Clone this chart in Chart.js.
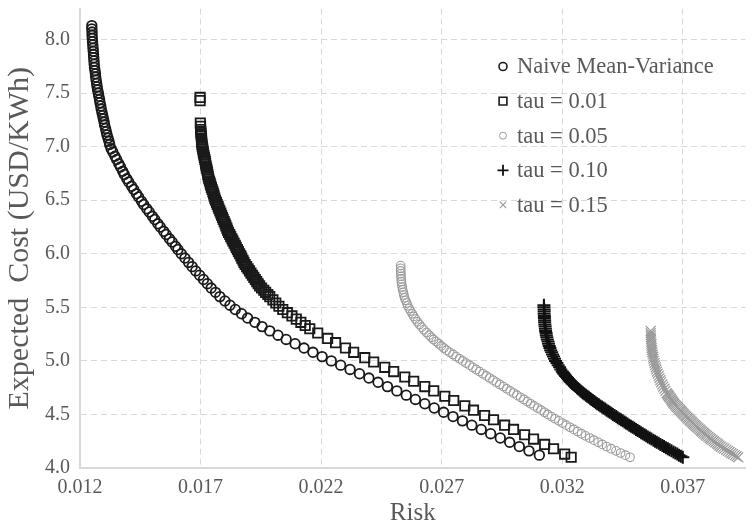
<!DOCTYPE html>
<html>
<head>
<meta charset="utf-8">
<title>Expected cost vs risk</title>
<script src="https://cdn.jsdelivr.net/npm/chart.js@4.4.1/dist/chart.umd.min.js"></script>
<style>
  html, body { margin: 0; padding: 0; background: #ffffff; }
  #wrap { width: 754px; height: 529px; }
</style>
</head>
<body>
<div id="wrap"><canvas id="myChart"></canvas></div>
<script>
// tick labels
const xTicks = [0.012, 0.017, 0.022, 0.027, 0.032, 0.037];
const yTicks = [4.0, 4.5, 5.0, 5.5, 6.0, 6.5, 7.0, 7.5, 8.0];

const seriesNames = ['Naive Mean-Variance', 'tau = 0.01', 'tau = 0.05', 'tau = 0.10', 'tau = 0.15'];

// Naive Mean-Variance
const naiveRisk = [0.01249,0.01249,0.01250,0.01250,0.01251,0.01252,0.01253,0.01254,0.01255,0.01256,0.01257,0.01258,0.01259,0.01260,0.01262,0.01264,0.01265,0.01267,0.01269,0.01271,0.01273,0.01276,0.01278,0.01281,0.01283,0.01286,0.01288,0.01291,0.01294,0.01297,0.01300,0.01302,0.01306,0.01309,0.01312,0.01316,0.01320,0.01323,
  0.01329,0.01336,0.01345,0.01352,0.01361,0.01368,0.01377,0.01384,0.01394,0.01402,0.01414,0.01423,0.01434,0.01443,0.01455,0.01464,0.01477,0.01487,0.01500,0.01510,0.01523,0.01533,0.01547,0.01557,0.01571,0.01582,0.01596,0.01606,0.01620,
  0.01635,0.01650,0.01665,0.01680,0.01696,0.01712,0.01728,0.01744,0.01762,0.01780,0.01801,0.01822,0.01844,0.01870,0.01895,0.01925,0.01955,0.01987,0.02021,0.02055,0.02092,0.02129,0.02166,0.02204,0.02242,0.02281,0.02320,0.02359,0.02398,0.02436,0.02475,0.02514,0.02553,0.02591,0.02630,0.02669,0.02708,0.02747,0.02786,0.02825,0.02864,0.02903,0.02943,0.02982,0.03022,0.03062,0.03105];
const naiveCost = [8.13,8.10,8.07,8.04,8.01,7.98,7.95,7.92,7.89,7.86,7.83,7.80,7.77,7.74,7.71,7.68,7.65,7.62,7.59,7.56,7.53,7.50,7.47,7.44,7.41,7.38,7.35,7.32,7.29,7.26,7.23,7.20,7.17,7.14,7.11,7.08,7.05,7.02,
  6.98,6.95,6.91,6.88,6.84,6.81,6.77,6.74,6.70,6.67,6.63,6.60,6.56,6.53,6.49,6.46,6.42,6.39,6.35,6.32,6.28,6.25,6.21,6.18,6.14,6.11,6.07,6.04,6.00,
  5.96,5.92,5.88,5.84,5.80,5.76,5.72,5.68,5.64,5.60,5.56,5.52,5.48,5.44,5.40,5.36,5.32,5.28,5.24,5.20,5.16,5.12,5.08,5.04,5.00,4.96,4.92,4.88,4.84,4.80,4.76,4.72,4.68,4.64,4.60,4.56,4.52,4.48,4.44,4.40,4.36,4.32,4.28,4.24,4.20,4.16,4.12];

// tau = 0.01
const tau01Risk = [0.01698,0.01698,0.01699,0.01700,0.01700,
  0.01701,0.01702,0.01703,0.01704,0.01704,0.01705,0.01706,0.01707,
  0.01709,0.01711,0.01712,0.01714,0.01716,0.01718,0.01720,0.01721,0.01723,0.01725,0.01727,0.01729,0.01730,0.01732,0.01734,
  0.01737,0.01740,0.01742,0.01745,0.01748,0.01751,0.01754,0.01756,0.01759,0.01762,
  0.01766,0.01769,0.01773,0.01776,0.01780,0.01784,0.01787,0.01791,0.01794,0.01798,0.01802,0.01805,0.01809,0.01812,0.01816,
  0.01821,0.01825,0.01830,0.01834,0.01839,0.01844,0.01848,0.01853,0.01857,0.01862,0.01867,0.01871,0.01876,0.01880,0.01885,
  0.01891,0.01897,0.01903,0.01909,0.01915,0.01921,0.01927,0.01933,0.01939,0.01945,
  0.01953,0.01962,0.01970,0.01979,0.01987,
  0.02000,0.02012,0.02025,0.02041,0.02060,0.02079,0.02097,0.02116,0.02134,0.02153,
  0.02186,0.02227,0.02260,0.02301,0.02335,0.02381,0.02418,0.02464,0.02501,0.02547,0.02584,0.02630,0.02667,0.02713,0.02750,0.02796,0.02832,0.02878,0.02915,0.02961,0.02998,0.03044,0.03081,0.03127,0.03164,0.03210,0.03237];
const tau01Cost = [7.46,7.43,7.22,7.19,7.16,
  7.14,7.12,7.10,7.08,7.06,7.04,7.02,7.00,
  6.98,6.96,6.94,6.92,6.90,6.88,6.86,6.84,6.82,6.80,6.78,6.76,6.74,6.72,6.70,
  6.68,6.66,6.64,6.62,6.60,6.58,6.56,6.54,6.52,6.50,
  6.48,6.46,6.44,6.42,6.40,6.38,6.36,6.34,6.32,6.30,6.28,6.26,6.24,6.22,6.20,
  6.18,6.16,6.14,6.12,6.10,6.08,6.06,6.04,6.02,6.00,5.98,5.96,5.94,5.92,5.90,
  5.88,5.86,5.84,5.82,5.80,5.78,5.76,5.74,5.72,5.70,
  5.68,5.66,5.64,5.62,5.60,
  5.57,5.54,5.51,5.48,5.45,5.42,5.39,5.36,5.33,5.30,
  5.26,5.21,5.17,5.12,5.08,5.03,4.99,4.94,4.90,4.85,4.81,4.76,4.72,4.67,4.63,4.58,4.54,4.49,4.45,4.40,4.36,4.31,4.27,4.22,4.18,4.13,4.10];

// tau = 0.05
const tau05Risk = [0.02530,0.02530,0.02530,0.02531,0.02531,0.02532,0.02533,0.02534,0.02536,0.02538,0.02541,0.02543,0.02546,0.02550,0.02555,0.02559,0.02565,0.02571,0.02578,0.02584,0.02591,0.02599,0.02608,0.02617,0.02626,0.02637,0.02648,
  0.02657,0.02666,0.02677,0.02688,0.02698,0.02709,0.02720,
  0.02733,0.02747,0.02760,0.02774,0.02787,
  0.02801,0.02815,0.02829,0.02843,0.02857,
  0.02871,0.02885,0.02899,0.02913,0.02927,
  0.02941,0.02956,0.02970,0.02984,0.02998,
  0.03012,0.03027,0.03041,0.03055,0.03069,
  0.03083,0.03098,0.03112,0.03126,0.03140,
  0.03155,0.03170,0.03186,0.03201,0.03216,
  0.03232,0.03248,0.03264,0.03280,0.03296,
  0.03314,0.03331,0.03349,0.03366,0.03384,
  0.03403,0.03423,0.03442,0.03462,0.03481];
const tau05Cost = [5.89,5.865,5.84,5.815,5.79,5.765,5.74,5.715,5.69,5.665,5.64,5.615,5.59,5.565,5.54,5.515,5.49,5.465,5.44,5.415,5.39,5.365,5.34,5.315,5.29,5.265,5.24,
  5.22,5.20,5.18,5.16,5.14,5.12,5.10,
  5.08,5.06,5.04,5.02,5.00,
  4.98,4.96,4.94,4.92,4.90,
  4.88,4.86,4.84,4.82,4.80,
  4.78,4.76,4.74,4.72,4.70,
  4.68,4.66,4.64,4.62,4.60,
  4.58,4.56,4.54,4.52,4.50,
  4.48,4.46,4.44,4.42,4.40,
  4.38,4.36,4.34,4.32,4.30,
  4.28,4.26,4.24,4.22,4.20,
  4.18,4.16,4.14,4.12,4.10];

// tau = 0.10
const tau10Risk = [0.03124,0.03124,0.03125,0.03125,0.03125,0.03126,0.03126,0.03127,0.03127,0.03128,0.03129,0.03130,0.03131,0.03133,0.03134,0.03136,0.03138,0.03141,0.03143,0.03146,0.03149,0.03152,0.03156,0.03160,0.03164,0.03168,0.03172,0.03178,0.03183,0.03189,0.03194,
  0.03200,0.03204,0.03207,0.03211,0.03214,0.03218,0.03222,0.03225,0.03229,0.03232,
  0.03236,0.03241,0.03246,0.03251,0.03256,0.03261,0.03266,0.03271,0.03276,0.03281,
  0.03286,0.03292,0.03298,0.03304,0.03310,0.03316,0.03321,0.03327,0.03333,0.03339,
  0.03345,0.03352,0.03358,0.03365,0.03371,0.03378,0.03384,0.03391,0.03397,0.03404,
  0.03410,0.03417,0.03424,0.03430,0.03437,0.03444,0.03451,0.03458,0.03464,0.03471,
  0.03478,0.03485,0.03492,0.03499,0.03506,0.03513,0.03520,0.03527,0.03534,0.03541,
  0.03548,0.03555,0.03563,0.03570,0.03578,0.03585,0.03592,0.03600,0.03607,0.03615,
  0.03622,0.03630,0.03638,0.03645,0.03653,0.03661,0.03669,0.03677,0.03684,0.03692,
  0.03700];
const tau10Cost = [5.52,5.50,5.48,5.46,5.44,5.42,5.40,5.38,5.36,5.34,5.32,5.30,5.28,5.26,5.24,5.22,5.20,5.18,5.16,5.14,5.12,5.10,5.08,5.06,5.04,5.02,5.00,4.98,4.96,4.94,4.92,
  4.90,4.89,4.88,4.87,4.86,4.85,4.84,4.83,4.82,4.81,
  4.80,4.79,4.78,4.77,4.76,4.75,4.74,4.73,4.72,4.71,
  4.70,4.69,4.68,4.67,4.66,4.65,4.64,4.63,4.62,4.61,
  4.60,4.59,4.58,4.57,4.56,4.55,4.54,4.53,4.52,4.51,
  4.50,4.49,4.48,4.47,4.46,4.45,4.44,4.43,4.42,4.41,
  4.40,4.39,4.38,4.37,4.36,4.35,4.34,4.33,4.32,4.31,
  4.30,4.29,4.28,4.27,4.26,4.25,4.24,4.23,4.22,4.21,
  4.20,4.19,4.18,4.17,4.16,4.15,4.14,4.13,4.12,4.11,
  4.10];

// tau = 0.15
const tau15Risk = [0.03567,0.03567,0.03567,0.03568,0.03568,0.03569,0.03570,0.03570,0.03571,0.03572,0.03574,0.03575,0.03577,0.03578,0.03580,0.03583,0.03585,0.03588,0.03590,0.03593,0.03596,0.03600,0.03603,0.03607,0.03610,0.03615,0.03619,0.03624,0.03628,0.03633,
  0.03636,0.03639,0.03642,0.03645,0.03649,0.03652,0.03655,0.03658,0.03661,0.03664,
  0.03668,0.03672,0.03676,0.03680,0.03685,0.03689,0.03693,0.03697,0.03701,0.03705,
  0.03710,0.03714,0.03719,0.03723,0.03728,0.03732,0.03737,0.03741,0.03746,0.03750,
  0.03755,0.03760,0.03765,0.03770,0.03775,0.03780,0.03785,0.03790,0.03795,0.03800,
  0.03806,0.03812,0.03817,0.03823,0.03829,0.03835,0.03841,0.03846,0.03852,0.03858,
  0.03865,0.03872,0.03880,0.03887,0.03894,0.03901,0.03908,0.03916,0.03923,0.03930];
const tau15Cost = [5.28,5.26,5.24,5.22,5.20,5.18,5.16,5.14,5.12,5.10,5.08,5.06,5.04,5.02,5.00,4.98,4.96,4.94,4.92,4.90,4.88,4.86,4.84,4.82,4.80,4.78,4.76,4.74,4.72,4.70,
  4.69,4.68,4.67,4.66,4.65,4.64,4.63,4.62,4.61,4.60,
  4.59,4.58,4.57,4.56,4.55,4.54,4.53,4.52,4.51,4.50,
  4.49,4.48,4.47,4.46,4.45,4.44,4.43,4.42,4.41,4.40,
  4.39,4.38,4.37,4.36,4.35,4.34,4.33,4.32,4.31,4.30,
  4.29,4.28,4.27,4.26,4.25,4.24,4.23,4.22,4.21,4.20,
  4.19,4.18,4.17,4.16,4.15,4.14,4.13,4.12,4.11,4.10];

function toPoints(risk, cost)
{
    let pts = [];
    let n = Math.min(risk.length, cost.length);
    for (let i = 0; i < n; i++) {
        pts.push({ x: risk[i], y: cost[i] });
    }
    return pts;
}

const serif = "'Liberation Serif', 'Times New Roman', serif";
const textGray = '#595959';
const gridGray = '#d9d9d9';

Chart.defaults.font.family = serif;
Chart.defaults.color = textGray;

// legend marker sizes (smaller than the plotted ones)
const legendRadius = [4, 5.5, 3.5, 5.5, 4.5];
const legendWidth = [1.6, 1.6, 1, 1.8, 1.1];

// legend drawn inside the plot area, top right
const insideLegend = {
    id: 'insideLegend',
    afterDatasetsDraw(chart) {
        const ctx = chart.ctx;
        const area = chart.chartArea;
        const mx = area.left + 423;
        const tx = area.left + 437;
        let y = area.top + 58;

        ctx.save();
        chart.data.datasets.forEach((ds, i) => {
            ctx.strokeStyle = ds.pointBorderColor;
            ctx.fillStyle = 'rgba(0,0,0,0)';
            ctx.lineWidth = legendWidth[i];
            ctx.setLineDash([]);
            Chart.helpers.drawPoint(ctx, {
                pointStyle: ds.pointStyle,
                radius: legendRadius[i],
                rotation: 0,
                borderWidth: legendWidth[i]
            }, mx, y);

            ctx.fillStyle = textGray;
            ctx.font = '22.5px ' + serif;
            ctx.textAlign = 'left';
            ctx.textBaseline = 'middle';
            ctx.fillText(ds.label, tx, y + 1);
            y += 34.6;
        });
        ctx.restore();
    }
};

const data = {
    datasets: [
        {
            label: seriesNames[0],
            data: toPoints(naiveRisk, naiveCost),
            pointStyle: 'circle',
            pointRadius: 4.8,
            pointBorderWidth: 1.8,
            pointBorderColor: '#1a1a1a',
            pointBackgroundColor: 'rgba(0,0,0,0)'
        },
        {
            label: seriesNames[1],
            data: toPoints(tau01Risk, tau01Cost),
            pointStyle: 'rect',
            pointRadius: 6.6,
            pointBorderWidth: 1.8,
            pointBorderColor: '#1a1a1a',
            pointBackgroundColor: 'rgba(0,0,0,0)'
        },
        {
            label: seriesNames[2],
            data: toPoints(tau05Risk, tau05Cost),
            pointStyle: 'circle',
            pointRadius: 4.3,
            pointBorderWidth: 1.1,
            pointBorderColor: '#9c9c9c',
            pointBackgroundColor: 'rgba(0,0,0,0)'
        },
        {
            label: seriesNames[3],
            data: toPoints(tau10Risk, tau10Cost),
            pointStyle: 'cross',
            pointRadius: 6.5,
            pointBorderWidth: 2,
            pointBorderColor: '#111111',
            pointBackgroundColor: 'rgba(0,0,0,0)'
        },
        {
            label: seriesNames[4],
            data: toPoints(tau15Risk, tau15Cost),
            pointStyle: 'crossRot',
            pointRadius: 7,
            pointBorderWidth: 1.2,
            pointBorderColor: '#999999',
            pointBackgroundColor: 'rgba(0,0,0,0)'
        }
    ]
};

const config = {
    type: 'scatter',
    data: data,
    options: {
        responsive: true,
        maintainAspectRatio: false,
        animation: false,
        events: [],
        layout: { padding: { top: 8, right: 2, left: 0, bottom: 0 } },
        plugins: {
            legend: { display: false },
            tooltip: { enabled: false }
        },
        scales: {
            x: {
                type: 'linear',
                min: 0.012,
                max: 0.0396,
                afterBuildTicks: s => { s.ticks = xTicks.map(v => ({ value: v })); },
                afterFit: s => { s.height = 61; s.paddingLeft = 0; s.paddingRight = 0; },
                grid: { color: gridGray, lineWidth: 1, drawTicks: false },
                border: { color: gridGray, width: 2, dash: [6, 4] },
                ticks: {
                    color: textGray,
                    font: { family: serif, size: 20 },
                    padding: 8,
                    maxRotation: 0,
                    autoSkip: false,
                    callback: v => v.toFixed(3)
                },
                title: {
                    display: true,
                    text: 'Risk',
                    color: textGray,
                    font: { family: serif, size: 25 },
                    padding: { top: 0, bottom: 1 }
                }
            },
            y: {
                type: 'linear',
                min: 4,
                max: 8.29,
                afterBuildTicks: s => { s.ticks = yTicks.map(v => ({ value: v })); },
                afterFit: s => { s.width = 80; s.paddingTop = 0; s.paddingBottom = 0; },
                grid: { color: gridGray, lineWidth: 1, drawTicks: false },
                border: { color: gridGray, width: 2, dash: [6, 4] },
                ticks: {
                    color: textGray,
                    font: { family: serif, size: 20 },
                    padding: 10,
                    autoSkip: false,
                    callback: v => v.toFixed(1)
                },
                title: {
                    display: true,
                    text: 'Expected  Cost (USD/KWh)',
                    color: textGray,
                    font: { family: serif, size: 30 },
                    padding: { top: 2, bottom: 0 }
                }
            }
        }
    },
    plugins: [insideLegend]
};

const myChart = new Chart(
    document.getElementById('myChart'),
    config
);
</script>
</body>
</html>
